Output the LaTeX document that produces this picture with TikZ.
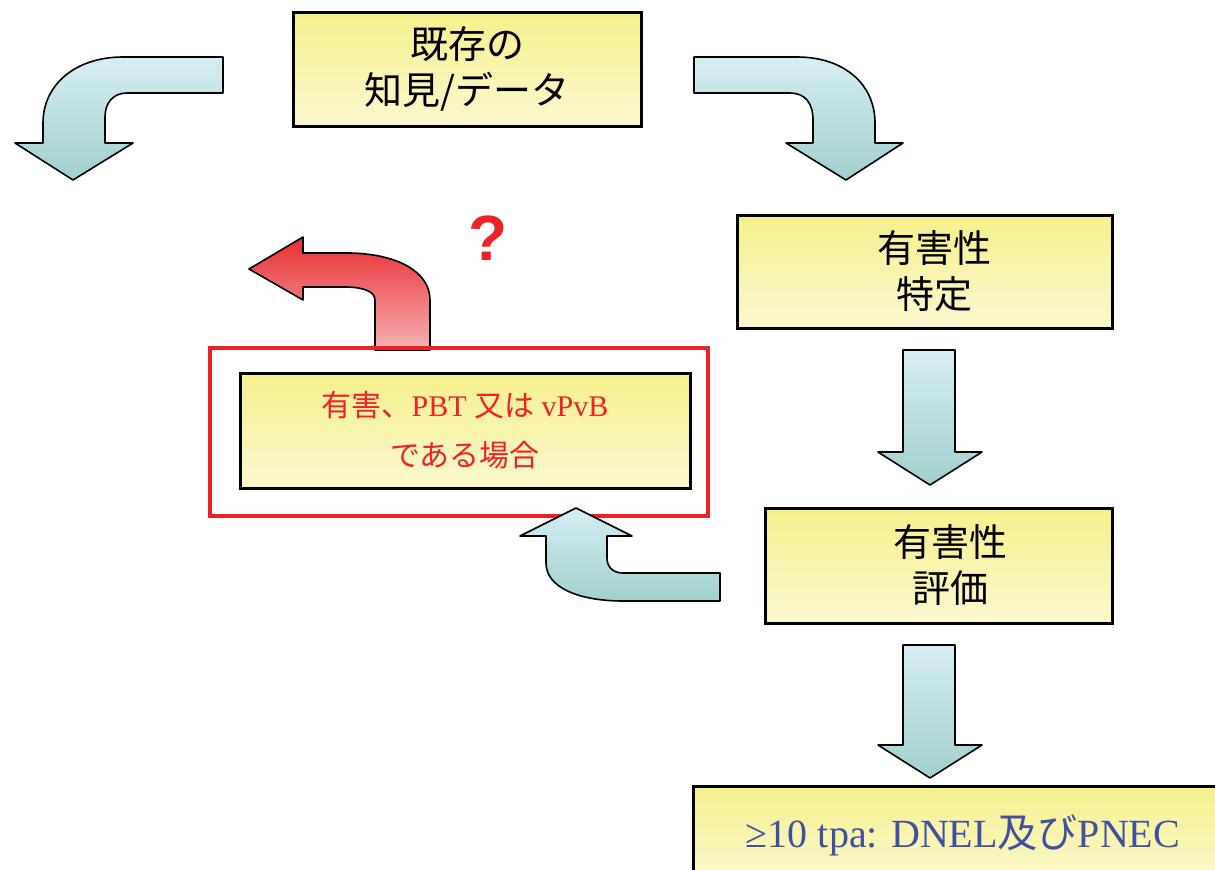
\documentclass[tikz,border=0pt]{standalone}
\usepackage{fontspec}
\setmainfont{Liberation Serif}
\newfontfamily\jp{Noto Sans CJK JP}
\newfontfamily\qfont{Liberation Sans}
\definecolor{boxtop}{RGB}{246,240,140}
\definecolor{boxbot}{RGB}{251,248,208}
\definecolor{arrtop}{RGB}{214,238,244}
\definecolor{arrbot}{RGB}{160,208,206}
\definecolor{redtop}{RGB}{232,46,48}
\definecolor{redbot}{RGB}{247,178,180}
\definecolor{myred}{RGB}{238,34,38}
\definecolor{myblue}{RGB}{64,80,160}
\tikzset{
  box/.style={draw=black, line width=1.5pt, top color=boxtop, bottom color=boxbot,
    inner sep=0pt, align=center, text=black},
  bigtext/.style={font=\fontsize{19}{23}\selectfont\jp},
  blockarrow/.style={draw=black, line width=0.8pt, top color=arrtop, bottom color=arrbot, line join=round},
  redarrow/.style={draw=black, line width=0.8pt, top color=redtop, bottom color=redbot, line join=round},
}
\begin{document}
\begin{tikzpicture}[x=0.5pt,y=-0.5pt]
\useasboundingbox (0,0) rectangle (1215,869);
\clip (0,0) rectangle (1215,869);

% boxes
\node[box, bigtext, minimum width=174pt, minimum height=57pt] (known) at (467,69) {既存の\\知見/データ};
\node[box, bigtext, minimum width=187.5pt, minimum height=56.5pt] (ident) at (924.5,271.5) {\hspace*{10pt}有害性\\\hspace*{10pt}特定};
\node[box, bigtext, minimum width=173.5pt, minimum height=57.5pt] (assess) at (938.5,565.5) {\hspace*{12pt}有害性\\\hspace*{12pt}評価};
\node[box, minimum width=270pt, minimum height=49pt, text=myblue,
  font=\fontsize{20}{23}\selectfont] (dnel) at (963,835) {≥10 tpa: DNEL{\jp 及び}PNEC};

% red curved arrow (drawn under the frame)
\path[redarrow] (375,350) -- (375,300) .. controls (375,291) and (362,287) .. (345,287)
  -- (303,287) -- (303,300) -- (249,269) -- (303,237) -- (303,253) -- (350,253)
  .. controls (398,254) and (430,272) .. (430,300) -- (430,350) -- cycle;

\node[box, minimum width=225pt, minimum height=57.5pt, text=myred,
  font=\fontsize{15}{25}\selectfont] (pbt) at (465,430.5) {{\jp 有害、}PBT {\jp 又は} vPvB\\{\jp である場合}};
\node[draw=myred, line width=2pt, minimum width=249pt, minimum height=84pt, inner sep=0pt] (frame) at (459,432) {};

\node[text=myred, font=\fontsize{32}{32}\selectfont\qfont\bfseries] (q) at (488,238) {?};

% top-left curved arrow
\path[blockarrow] (223,57) -- (123,57) .. controls (75,57) and (43,85) .. (43,123)
  -- (43,143) -- (15,143) -- (73,180) -- (133,143) -- (105,143) -- (105,117)
  .. controls (105,103) and (113,93) .. (127,93) -- (223,93) -- cycle;

% top-right curved arrow
\path[blockarrow] (694,57) -- (797,57) .. controls (845,57) and (875,85) .. (875,123)
  -- (875,143) -- (903,143) -- (846,180) -- (786,143) -- (813,143) -- (813,120)
  .. controls (813,103) and (805,93) .. (790,93) -- (694,93) -- cycle;

% straight down arrows
\path[blockarrow] (903,350) -- (955,350) -- (955,452) -- (982,452) -- (930,485)
  -- (878,452) -- (903,452) -- cycle;
\path[blockarrow] (903,645) -- (955,645) -- (955,745) -- (982,745) -- (930,778)
  -- (878,745) -- (903,745) -- cycle;

% bottom curved arrow back to the frame
\path[blockarrow] (720,573) -- (623,573) .. controls (612,573) and (607,566) .. (607,558)
  -- (607,536) -- (632,536) -- (576,508) -- (520,536) -- (546,536) -- (546,563)
  .. controls (546,588) and (580,601) .. (623,601) -- (720,601) -- cycle;
\end{tikzpicture}
\end{document}
